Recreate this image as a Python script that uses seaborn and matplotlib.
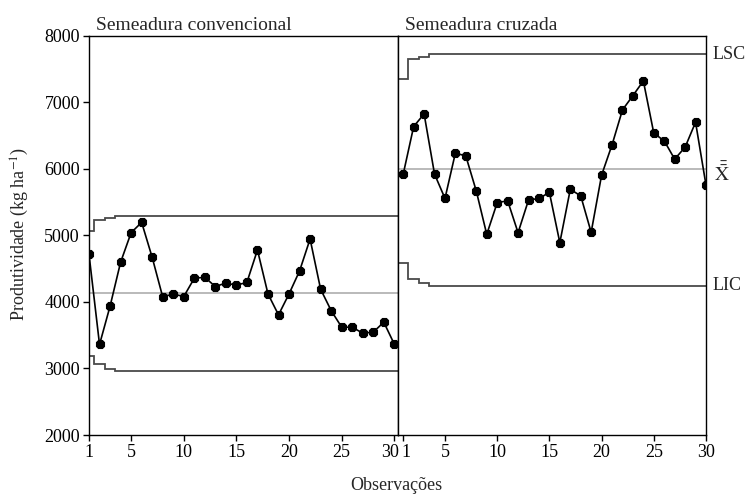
import numpy as np
import pandas as pd
import matplotlib
matplotlib.use("Agg")
import matplotlib.pyplot as plt
import matplotlib.transforms as mtransforms
import seaborn as sns

# Productivity per observation (kg ha-1)
observacoes = list(range(1, 31))
convencional = [4715, 3360, 3935, 4595, 5040, 5195, 4670, 4075, 4120, 4080,
                4355, 4370, 4230, 4285, 4250, 4295, 4780, 4120, 3805, 4120,
                4465, 4945, 4190, 3870, 3620, 3620, 3530, 3545, 3695, 3365]
cruzada = [5920, 6635, 6825, 5920, 5555, 6240, 6190, 5665, 5015, 5490,
           5520, 5040, 5530, 5555, 5645, 4890, 5690, 5595, 5045, 5905,
           6360, 6885, 7100, 7320, 6535, 6420, 6145, 6325, 6700, 5755]

# Centre line and control limits for each observation
media_conv = 4140
lsc_conv = [5060, 5225, 5260] + [5295] * 27
lic_conv = [3190, 3060, 2995] + [2962] * 27
media_cruz = 5990
lsc_cruz = [7350, 7645, 7680] + [7720] * 27
lic_cruz = [4580, 4340, 4290] + [4245] * 27

titulos = ["Semeadura convencional", "Semeadura cruzada"]
yticks = [2000, 3000, 4000, 5000, 6000, 7000, 8000]
xticks = [1, 5, 10, 15, 20, 25, 30]

df = pd.DataFrame({
    "obs": observacoes * 2,
    "prod": convencional + cruzada,
    "sistema": [titulos[0]] * 30 + [titulos[1]] * 30,
})

sns.set_theme(style="ticks")
plt.rcParams["font.family"] = ["Liberation Serif", "DejaVu Serif"]
plt.rcParams["mathtext.fontset"] = "stix"
plt.rcParams["axes.linewidth"] = 1.0
plt.rcParams["axes.edgecolor"] = "black"

W, H = 745, 495
fig = plt.figure(figsize=(W / 100, H / 100), dpi=100)
top_px, bot_px = 35.7, 435.0
ax1 = fig.add_axes([89 / W, 1 - bot_px / H, (398 - 89) / W, (bot_px - top_px) / H])
ax2 = fig.add_axes([398 / W, 1 - bot_px / H, (706 - 398) / W, (bot_px - top_px) / H])

paineis = [
    (ax1, titulos[0], media_conv, lsc_conv, lic_conv, (1, 30.35)),
    (ax2, titulos[1], media_cruz, lsc_cruz, lic_cruz, (0.5, 30)),
]

obs = np.array(observacoes)
bordas = np.append(obs - 0.5, obs[-1] + 0.5)

for ax, titulo, media, lsc, lic, xlim in paineis:
    ax.axhline(media, color="#b4b4b4", lw=1.3, zorder=1)
    ax.stairs(lsc, bordas, baseline=None, color="#4a4a4a", lw=1.3, zorder=1)
    ax.stairs(lic, bordas, baseline=None, color="#4a4a4a", lw=1.3, zorder=1)
    sns.lineplot(data=df[df["sistema"] == titulo], x="obs", y="prod", ax=ax,
                 color="black", lw=1.2, marker="8", markersize=7,
                 markeredgecolor="black", markeredgewidth=0.8, zorder=3)
    ax.set_xlim(*xlim)
    ax.set_ylim(2000, 8000)
    ax.set_xticks(xticks)
    ax.set_xlabel("")
    ax.set_ylabel("")
    for s in ax.spines.values():
        s.set_visible(True)
        s.set_linewidth(1.0)
    ax.tick_params(axis="both", direction="out", length=4.5, width=1.0,
                   labelsize=13, pad=2, colors="black")
    ax.text(0.023, 1 + 6 / (bot_px - top_px), titulo, transform=ax.transAxes,
            ha="left", va="baseline", fontsize=14)

ax1.set_yticks(yticks)
ax2.set_yticks([])

# Keep the "30" of the left panel and the "1" of the right panel apart
fig.canvas.draw()
lab30 = ax1.get_xticklabels()[-1]
lab30.set_transform(lab30.get_transform() +
                    mtransforms.ScaledTranslation(-4 / 100, 0, fig.dpi_scale_trans))
lab1 = ax2.get_xticklabels()[0]
lab1.set_transform(lab1.get_transform() +
                   mtransforms.ScaledTranslation(3 / 100, 0, fig.dpi_scale_trans))

# Limit labels on the right side
ax2.text(1.02, lsc_cruz[-1], "LSC", transform=ax2.get_yaxis_transform(),
         ha="left", va="center", fontsize=13)
ax2.text(1.02, lic_cruz[-1], "LIC", transform=ax2.get_yaxis_transform(),
         ha="left", va="center", fontsize=13)
ax2.text(1.025, media_cruz - 60, r"$\bar{\bar{\mathrm{X}}}$",
         transform=ax2.get_yaxis_transform(), ha="left", va="center", fontsize=14)

fig.text(396 / W, 1 - 485 / H, "Observações", ha="center", va="center", fontsize=13)
fig.text(20 / W, 1 - 234 / H, r"Produtividade (kg ha$^{-1}$)", rotation=90,
         ha="center", va="center", fontsize=13)

fig.savefig("out.png", dpi=100)
